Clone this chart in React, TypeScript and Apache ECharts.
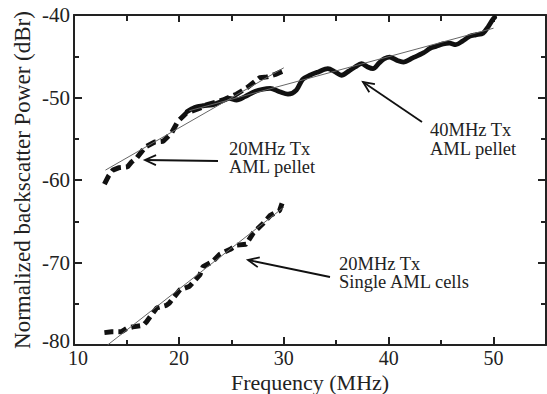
import React, { useEffect, useRef } from "react";
import * as echarts from "echarts";

// ---- data ----
const xTicks = [10, 20, 30, 40, 50];
const yTicks = [-80, -70, -60, -50, -40];

// 20 MHz transducer, AML pellet (thick dashed)
const pellet20: [number, number][] = [
  [12.9, -60.5], [13.3, -59.5], [13.7, -58.8], [14.3, -58.5], [15.1, -58.4],
  [15.5, -57.8], [16.0, -57.3], [16.8, -56.0], [17.7, -55.4], [18.5, -55.3],
  [19.3, -54.3], [19.9, -52.9], [20.7, -51.9], [22.0, -51.3], [22.6, -50.9],
  [24.2, -50.3], [25.5, -49.6], [26.5, -48.8], [27.7, -47.6], [28.4, -47.5],
  [29.2, -47.2], [29.9, -46.8],
];

// 40 MHz transducer, AML pellet (thick wavy solid)
const pellet40: [number, number][] = [
  [20.8, -51.7], [21.5, -51.2], [22.3, -51.0], [23.2, -50.9], [24.0, -50.5],
  [24.8, -50.1], [25.5, -50.3], [26.3, -49.9], [27.2, -49.3], [28.0, -49.0],
  [28.7, -48.9], [29.6, -49.3], [30.4, -49.6], [31.2, -49.1], [31.8, -47.8],
  [32.5, -47.3], [33.3, -46.9], [34.2, -46.5], [34.9, -46.9], [35.5, -47.3],
  [36.2, -46.8], [36.8, -46.3], [37.4, -45.9], [38.0, -46.3], [38.5, -46.5],
  [39.1, -45.8], [39.6, -45.3], [40.1, -45.1], [40.8, -45.5], [41.4, -45.7],
  [42.3, -45.2], [43.3, -44.6], [44.0, -44.0], [44.5, -43.8], [45.2, -43.5],
  [45.8, -43.4], [46.4, -43.6], [47.0, -43.2], [47.7, -42.6], [48.3, -42.4],
  [49.0, -42.2], [49.5, -41.4], [49.9, -40.6], [50.1, -40.3],
];

// 20 MHz transducer, single AML cells (thick dashed)
const cells20: [number, number][] = [
  [12.9, -78.5], [13.6, -78.4], [14.5, -78.4], [15.0, -78.0], [15.6, -77.8],
  [16.6, -77.6], [16.9, -77.2], [17.9, -75.5], [18.8, -75.2], [19.1, -74.9],
  [20.1, -73.3], [21.0, -72.9], [22.0, -71.5], [22.3, -70.5], [23.2, -69.9],
  [23.9, -69.0], [24.9, -68.4], [25.5, -67.9], [26.4, -67.8], [27.1, -66.4],
  [28.0, -65.3], [28.7, -64.3], [29.6, -63.7], [29.9, -62.6],
];

// thin fitted lines
const fitPellet20: [number, number][] = [[13.0, -58.8], [30.0, -46.4]];
const fitPellet40: [number, number][] = [[21.0, -51.6], [50.0, -41.6]];
const fitCells20: [number, number][] = [[13.2, -80.0], [30.0, -63.3]];

const GRID = { left: 74, right: 1, top: 15, bottom: 49 };
const FONT = "'Liberation Serif', 'Times New Roman', serif";

function arrow(tail: [number, number], tip: [number, number]) {
  const dx = tip[0] - tail[0];
  const dy = tip[1] - tail[1];
  const len = Math.sqrt(dx * dx + dy * dy);
  const ux = dx / len, uy = dy / len;
  const hl = 11, hw = 5;
  const bx = tip[0] - ux * hl, by = tip[1] - uy * hl;
  const px = -uy, py = ux;
  const st = { stroke: "#111", lineWidth: 1.8, fill: "none" };
  return [
    { type: "line", shape: { x1: tail[0], y1: tail[1], x2: tip[0], y2: tip[1] }, style: st },
    {
      type: "polyline",
      shape: { points: [[bx + px * hw, by + py * hw], tip, [bx - px * hw, by - py * hw]] },
      style: st,
    },
  ];
}

function label(text: string, x: number, y: number) {
  return {
    type: "text",
    x,
    y,
    style: {
      text,
      fontFamily: FONT,
      fontSize: 18.5,
      lineHeight: 18.5,
      fill: "#222",
      align: "left",
      verticalAlign: "top",
    },
  };
}

export default function App() {
  const ref = useRef<HTMLDivElement>(null);
  useEffect(() => {
    if (!ref.current) return;
    const chart = echarts.init(ref.current, null, { renderer: "svg" });
    const axisLine = { show: true, onZero: false, lineStyle: { color: "#222", width: 2 } };
    const xBase = { type: "value", min: 10, max: 55, gridIndex: 0 };
    const yBase = { type: "value", min: -80, max: -40, gridIndex: 0 };
    const tickStyle = { color: "#222", width: 2 };
    const lineSeries = (data: [number, number][], extra: any) => ({
      type: "line",
      data,
      showSymbol: false,
      symbol: "none",
      xAxisIndex: 0,
      yAxisIndex: 0,
      ...extra,
    });
    chart.setOption({
      animation: false,
      backgroundColor: "#fff",
      grid: { ...GRID, containLabel: false, outerBoundsMode: "none" },
      xAxis: [
        {
          ...xBase,
          position: "bottom",
          interval: 10,
          name: "Frequency (MHz)",
          nameLocation: "middle",
          nameGap: 26,
          nameMoveOverlap: false,
          nameTextStyle: { fontFamily: FONT, fontSize: 22, color: "#222" },
          axisLine,
          axisTick: { show: true, inside: true, length: 8, lineStyle: tickStyle },
          axisLabel: {
            fontFamily: FONT,
            fontSize: 20,
            color: "#222",
            margin: 3,
            formatter: (v: number) =>
              v === xTicks[0] ? `{first|${v}}` : xTicks.includes(v) ? String(v) : "",
            rich: {
              first: { fontFamily: FONT, fontSize: 20, color: "#222", padding: [0, 0, 0, 8] },
            },
          },
          splitLine: { show: false },
        },
        {
          ...xBase,
          position: "bottom",
          interval: 5,
          axisLine: { show: false },
          axisTick: { show: true, inside: true, length: 5, lineStyle: tickStyle },
          axisLabel: { show: false },
          splitLine: { show: false },
        },
        {
          ...xBase,
          position: "top",
          interval: 10,
          axisLine,
          axisTick: { show: true, inside: true, length: 7, lineStyle: tickStyle },
          axisLabel: { show: false },
          splitLine: { show: false },
        },
        {
          ...xBase,
          position: "top",
          interval: 5,
          axisLine: { show: false },
          axisTick: { show: true, inside: true, length: 6, lineStyle: tickStyle },
          axisLabel: { show: false },
          splitLine: { show: false },
        },
      ],
      yAxis: [
        {
          ...yBase,
          position: "left",
          interval: 10,
          name: "Normalized backscatter Power (dBr)",
          nameLocation: "middle",
          nameGap: 40,
          nameMoveOverlap: false,
          nameTextStyle: { fontFamily: FONT, fontSize: 23, color: "#222" },
          axisLine,
          axisTick: { show: true, inside: true, length: 8, lineStyle: tickStyle },
          minorTick: { show: true, splitNumber: 2, length: 5, lineStyle: tickStyle },
          axisLabel: {
            fontFamily: FONT,
            fontSize: 21,
            color: "#222",
            margin: 4,
            formatter: (v: number) =>
              v === yTicks[0] ? `{low|${v}}` : yTicks.includes(v) ? String(v) : "",
            rich: {
              low: { fontFamily: FONT, fontSize: 21, color: "#222", padding: [0, 0, 8, 0] },
            },
          },
          splitLine: { show: false },
          minorSplitLine: { show: false },
        },
        {
          ...yBase,
          position: "right",
          interval: 10,
          axisLine,
          axisTick: { show: true, inside: true, length: 8, lineStyle: tickStyle },
          minorTick: { show: true, splitNumber: 2, length: 5, lineStyle: tickStyle },
          axisLabel: { show: false },
          splitLine: { show: false },
          minorSplitLine: { show: false },
        },
      ],
      series: [
        lineSeries(cells20, {
          name: "20MHz Tx Single AML cells",
          lineStyle: { color: "#111", width: 5, type: [9, 5], cap: "butt" },
        }),
        lineSeries(pellet20, {
          name: "20MHz Tx AML pellet",
          lineStyle: { color: "#111", width: 5, type: [10, 5], cap: "butt" },
        }),
        lineSeries(pellet40, {
          name: "40MHz Tx AML pellet",
          smooth: 0.3,
          lineStyle: { color: "#111", width: 4.8, cap: "round", join: "round" },
        }),
        lineSeries(fitCells20, { name: "fit cells", lineStyle: { color: "#666", width: 1 } }),
        lineSeries(fitPellet20, { name: "fit 20MHz pellet", lineStyle: { color: "#666", width: 1 } }),
        lineSeries(fitPellet40, { name: "fit 40MHz pellet", lineStyle: { color: "#666", width: 1 } }),
      ],
      graphic: [
        ...arrow([218, 161], [145, 160]),
        ...arrow([422, 122], [363, 82]),
        ...arrow([330, 277], [248, 260]),
        label("20MHz Tx\nAML pellet", 229, 139.5),
        label("40MHz Tx\nAML pellet", 430, 121),
        label("20MHz Tx\nSingle AML cells", 339, 254.5),
      ],
    });
    return () => chart.dispose();
  }, []);
  return <div ref={ref} style={{ width: 547, height: 394, position: "absolute", left: 0, top: 0 }} />;
}
